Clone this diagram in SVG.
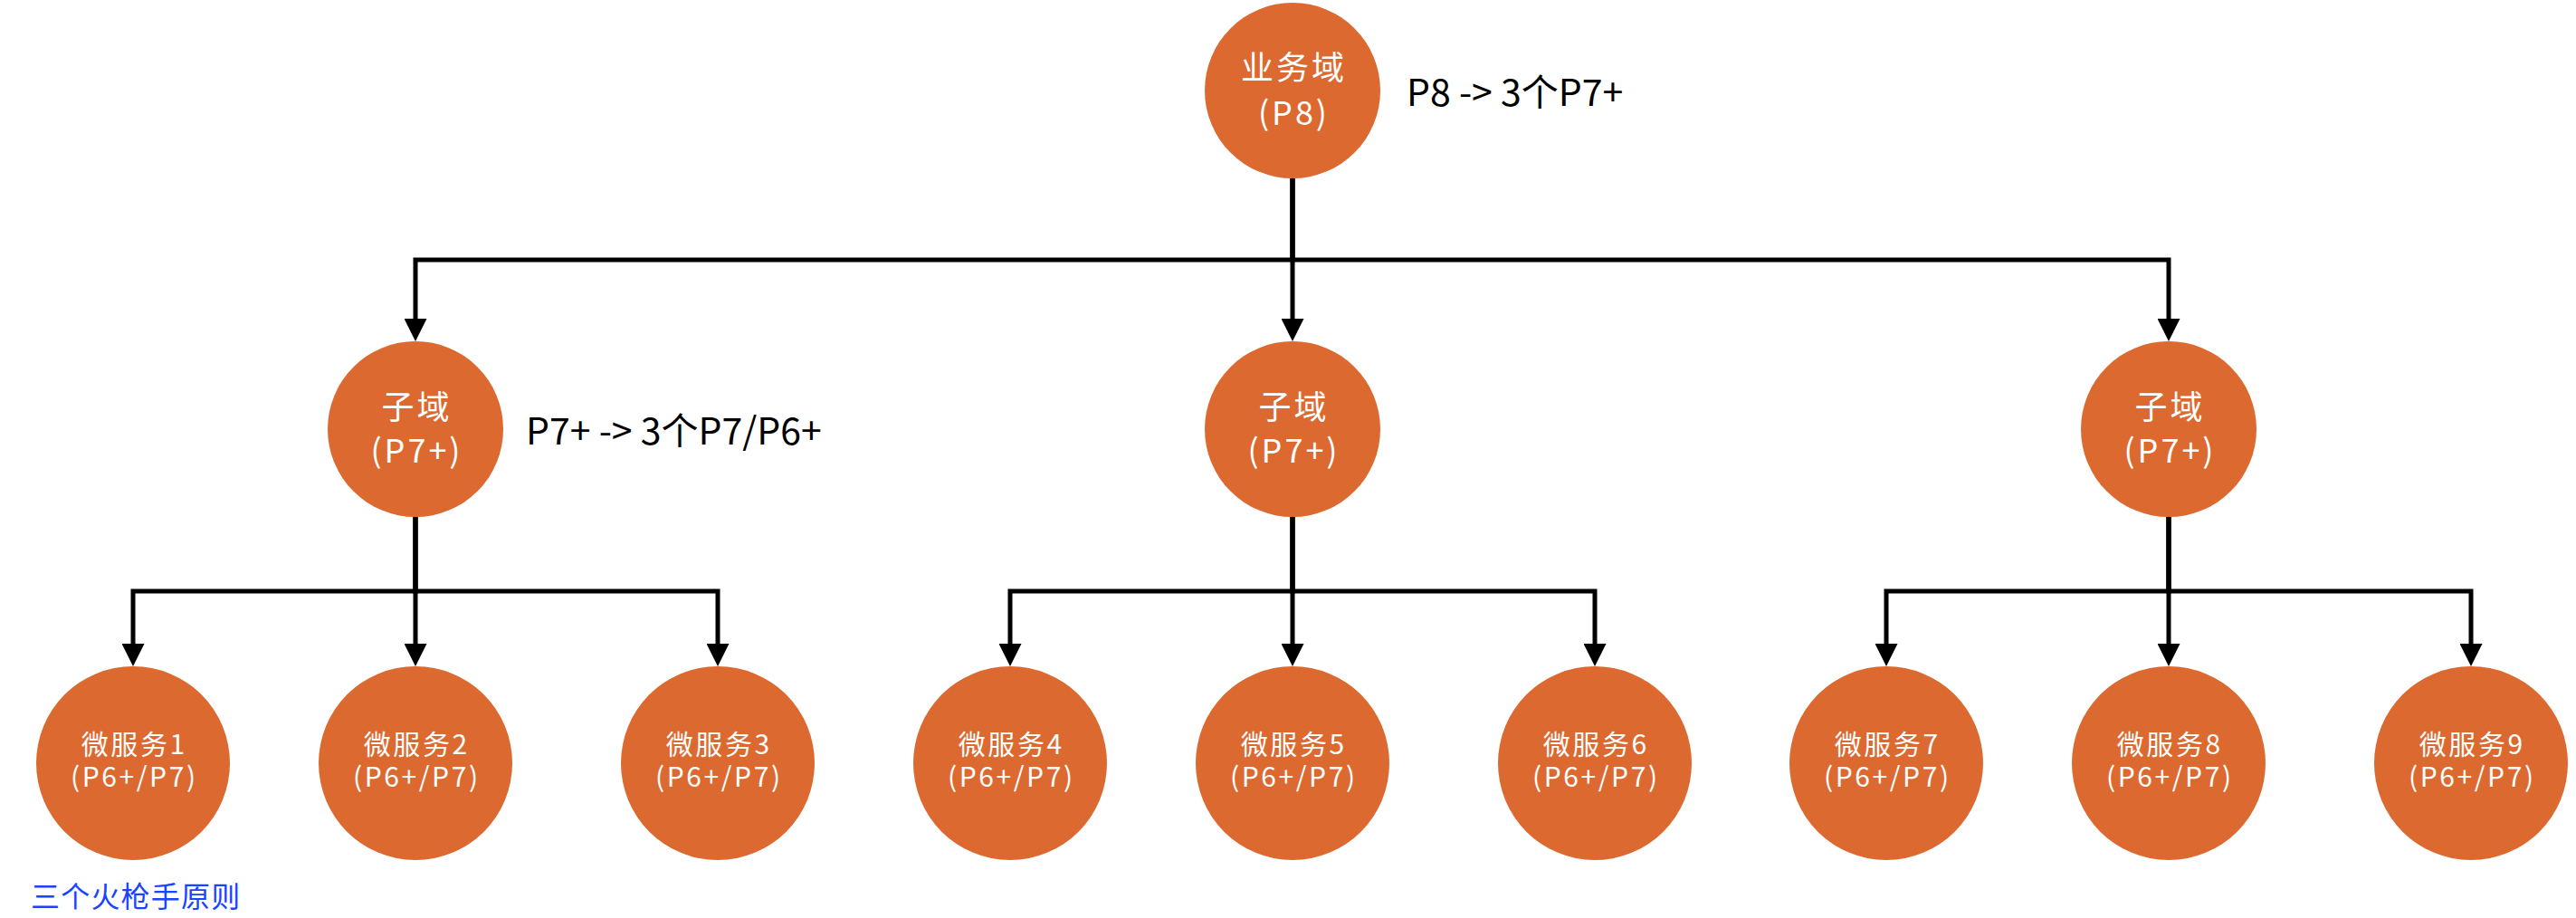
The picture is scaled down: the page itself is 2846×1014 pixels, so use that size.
<svg xmlns="http://www.w3.org/2000/svg" width="2846" height="1014" viewBox="0 0 2846 1014">
<style>
.node{fill:#DB6930;}
.t{font-family:"Noto Sans CJK SC","Noto Sans",sans-serif;fill:#ffffff;text-anchor:middle;}
.big{font-size:36px;letter-spacing:3px;}
.small{font-size:30px;letter-spacing:2.6px;}
.lbl{font-family:"Noto Sans CJK SC","Noto Sans",sans-serif;font-size:41px;fill:#000000;}
.note{font-family:"Noto Sans CJK SC","Noto Sans",sans-serif;font-size:32px;letter-spacing:1.2px;fill:#1a44ff;}
.edge{fill:none;stroke:#000000;stroke-width:5;marker-end:url(#arr);}
</style>
<defs>
<marker id="arr" viewBox="0 0 25 25" markerWidth="25" markerHeight="25" markerUnits="userSpaceOnUse" refX="3" refY="12.5" orient="auto">
<path d="M0,0 L25,12.5 L0,25 z" fill="#000000"/>
</marker>
</defs>
<g id="connectors">
<path class="edge" d="M1428,197 V287 H459 V355"/>
<path class="edge" d="M1428,197 V355"/>
<path class="edge" d="M1428,197 V287 H2396 V355"/>
<path class="edge" d="M459,571 V653 H147 V714"/>
<path class="edge" d="M459,571 V714"/>
<path class="edge" d="M459,571 V653 H793 V714"/>
<path class="edge" d="M1428,571 V653 H1116 V714"/>
<path class="edge" d="M1428,571 V714"/>
<path class="edge" d="M1428,571 V653 H1762 V714"/>
<path class="edge" d="M2396,571 V653 H2084 V714"/>
<path class="edge" d="M2396,571 V714"/>
<path class="edge" d="M2396,571 V653 H2730 V714"/>
</g>
<g id="domain">
<circle class="node" cx="1428" cy="100" r="97"/>
<text class="t big" x="1429.5" y="88">业务域</text>
<text class="t big" x="1429.5" y="138">(P8)</text>
</g>
<g id="sub1">
<circle class="node" cx="459" cy="474" r="97"/>
<text class="t big" x="460.5" y="463">子域</text>
<text class="t big" x="460.5" y="511">(P7+)</text>
</g>
<g id="sub2">
<circle class="node" cx="1428" cy="474" r="97"/>
<text class="t big" x="1429.5" y="463">子域</text>
<text class="t big" x="1429.5" y="511">(P7+)</text>
</g>
<g id="sub3">
<circle class="node" cx="2396" cy="474" r="97"/>
<text class="t big" x="2397.5" y="463">子域</text>
<text class="t big" x="2397.5" y="511">(P7+)</text>
</g>
<g id="ms1"><circle class="node" cx="147" cy="843" r="107"/><text class="t small" x="148.3" y="832.5">微服务1</text><text class="t small" x="148.3" y="869">(P6+/P7)</text></g>
<g id="ms2"><circle class="node" cx="459" cy="843" r="107"/><text class="t small" x="460.3" y="832.5">微服务2</text><text class="t small" x="460.3" y="869">(P6+/P7)</text></g>
<g id="ms3"><circle class="node" cx="793" cy="843" r="107"/><text class="t small" x="794.3" y="832.5">微服务3</text><text class="t small" x="794.3" y="869">(P6+/P7)</text></g>
<g id="ms4"><circle class="node" cx="1116" cy="843" r="107"/><text class="t small" x="1117.3" y="832.5">微服务4</text><text class="t small" x="1117.3" y="869">(P6+/P7)</text></g>
<g id="ms5"><circle class="node" cx="1428" cy="843" r="107"/><text class="t small" x="1429.3" y="832.5">微服务5</text><text class="t small" x="1429.3" y="869">(P6+/P7)</text></g>
<g id="ms6"><circle class="node" cx="1762" cy="843" r="107"/><text class="t small" x="1763.3" y="832.5">微服务6</text><text class="t small" x="1763.3" y="869">(P6+/P7)</text></g>
<g id="ms7"><circle class="node" cx="2084" cy="843" r="107"/><text class="t small" x="2085.3" y="832.5">微服务7</text><text class="t small" x="2085.3" y="869">(P6+/P7)</text></g>
<g id="ms8"><circle class="node" cx="2396" cy="843" r="107"/><text class="t small" x="2397.3" y="832.5">微服务8</text><text class="t small" x="2397.3" y="869">(P6+/P7)</text></g>
<g id="ms9"><circle class="node" cx="2730" cy="843" r="107"/><text class="t small" x="2731.3" y="832.5">微服务9</text><text class="t small" x="2731.3" y="869">(P6+/P7)</text></g>
<g id="labels">
<text class="lbl" x="1554" y="117">P8 -&gt; 3个P7+</text>
<text class="lbl" x="581" y="491">P7+ -&gt; 3个P7/P6+</text>
<text class="note" x="34" y="1002">三个火枪手原则</text>
</g>
</svg>
